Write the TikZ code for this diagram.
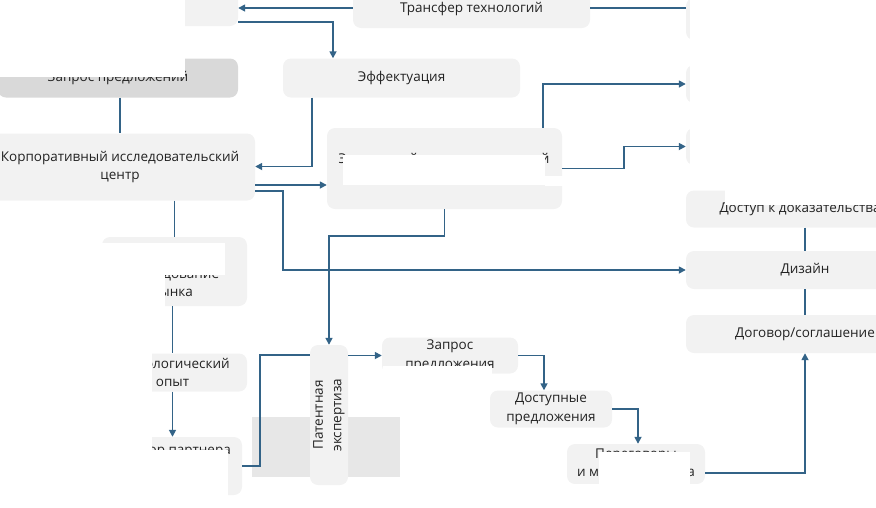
\documentclass[tikz,border=0pt]{standalone}
\usepackage{fontspec}
\setmainfont{Open Sans}
\usetikzlibrary{arrows.meta}
\definecolor{boxg}{HTML}{F2F2F2}
\definecolor{boxd}{HTML}{D9D9D9}
\definecolor{lnc}{HTML}{336387}
\definecolor{txt}{HTML}{222222}
\definecolor{bgarrow}{HTML}{E7E7E7}
\begin{document}
\begin{tikzpicture}[x=1pt,y=-1pt,
  box/.style={fill=boxg, rounded corners=8pt, inner sep=0pt, align=center, text=txt,
    font=\fontsize{13.5}{18.5}\selectfont},
  lbl/.style={inner sep=0pt, align=center, text=txt, font=\fontsize{13.5}{18.5}\selectfont},
  conn/.style={draw=lnc, line width=1.6pt},
  arr/.style={conn, -{Triangle[length=7pt,width=7pt]}}]
\useasboundingbox (0,0) rectangle (876,507);
\begin{scope}
\clip (0,0) rectangle (876,507);
% block arrow in background
\path[fill=bgarrow] (252,417) -- (400,417) -- (400,477) -- (252,477) -- cycle;
% left / top boxes
\node[box, minimum width=248pt, minimum height=40pt] (tl) at (114,6) {};
\node[box, minimum width=237pt, minimum height=38pt] (tr) at (471.5,9) {Трансфер технологий};
\node[box, fill=boxd, minimum width=240pt, minimum height=39pt] (zp) at (118,78) {Запрос предложений};
\node[box, minimum width=237pt, minimum height=39pt] (ef) at (401.5,78) {Эффектуация};
\node[box, minimum width=270pt, minimum height=67pt] (ko) at (120,167) {Корпоративный исследовательский\\центр};
\node[box, minimum width=235pt, minimum height=81pt] (ex) at (444.5,168.5) {};
\node[lbl] (ext) at (444,160) {Экспертный исследовательский};
% right column
\node[box, minimum width=238pt, minimum height=42pt] (ra) at (805,19) {};
\node[box, minimum width=238pt, minimum height=38pt] (rb) at (805,84) {};
\node[box, minimum width=238pt, minimum height=37pt] (rc) at (805,146.5) {};
\node[box, minimum width=238pt, minimum height=37pt] (rd) at (805,209) {Доступ к доказательствам};
\node[box, minimum width=238pt, minimum height=38pt] (re) at (805,270) {Дизайн};
\node[box, minimum width=238pt, minimum height=38pt] (rf) at (805,334) {Договор/соглашение};
% left column
\node[box, minimum width=145pt, minimum height=69pt] (ir) at (174.5,271.5) {};
\node[lbl] (irt) at (172,284.5) {Исследование\\рынка};
\node[box, minimum width=149pt, minimum height=38pt] (to) at (172.5,372.5) {Технологический\\опыт};
\node[box, minimum width=140pt, minimum height=58pt] (pp) at (172,466) {};
\node[lbl, anchor=east] (ppt) at (231,451) {Выбор партнера};
% bottom chain
\node[box, rotate=90, minimum width=140pt, minimum height=38pt] (pe) at (329,415) {Патентная\\экспертиза};
\node[box, minimum width=136pt, minimum height=36pt] (zq) at (450,355.5) {Запрос\\предложения};
\node[box, minimum width=122pt, minimum height=37pt] (dp) at (551,409) {Доступные\\предложения};
\node[box, minimum width=138pt, minimum height=40pt] (pg) at (636,464) {Переговоры\\и модель бизнеса};
\coordinate (kb) at (283,270);
% connectors
\draw[arr] ([yshift=1pt]tr.west) -- ([yshift=1pt]tr.west -| tl.east);
\draw[arr] ([yshift=-16pt]tl.east) -| ([xshift=-68.5pt]ef.north);
\draw[conn] ([yshift=1pt]tr.east) -- ([yshift=1pt]tr.east -| ra.west);
\draw[arr] ([xshift=-89.5pt]ef.south) |- ([yshift=0.5pt]ko.east);
\draw[conn] (ko.north |- zp.south) -- (ko.north);
\draw[arr] ([yshift=-18pt]ko.east) -- ([yshift=-18pt]ko.east -| ex.west);
\draw[arr] ([yshift=-24pt]ko.east) -| (kb) -- (re.west);
\draw[arr] ([xshift=98.5pt]ex.north) |- (rb.west);
\draw[arr] (ex.east) -- ([xshift=62pt]ex.east) |- (rc.west);
\draw[arr] (ex.south) |- ([yshift=-27pt]ex.south -| pe.east) -- (pe.east);
\draw[conn] (ir.north |- ko.south) -- (ir.north);
\draw[conn] (ir.south -| to.north) -- (to.north);
\draw[arr] (to.south) -- (pp.north -| to.south);
\draw[conn] (pp.east) -| ([xshift=18pt,yshift=111pt]pp.east) -- ([yshift=111pt]pp.east -| pe.north);
\draw[arr] (pe.south |- zq.west) -- (zq.west);
\draw[arr] (zq.east) -| ([xshift=-7pt]dp.north);
\draw[arr] (dp.east) -| ([xshift=2pt]pg.north);
\draw[arr] ([yshift=-9pt]pg.east) -| (rf.south);
\draw[conn] (rd.south) -- (re.north);
\draw[conn] (re.south) -- (rf.north);
% white occlusions of the reference
\fill[white] (-2,-2) rectangle (185,77);
\fill[white] (343,155) rectangle (545,185);
\fill[white] (545,176) rectangle (565,186);
\fill[white] (690,-2) rectangle (880,186);
\fill[white] (725,186) rectangle (880,205);
\fill[white] (100,243) rectangle (225,275);
\fill[white] (90,275) rectangle (165,312);
\fill[white] (90,312) rectangle (152,510);
\fill[white] (152,450) rectangle (228,510);
\fill[white] (383,366) rectangle (492,378);
\fill[white] (599,452) rectangle (690,490);
\fill[white] (560,484) rectangle (720,510);
\end{scope}
\end{tikzpicture}
\end{document}
